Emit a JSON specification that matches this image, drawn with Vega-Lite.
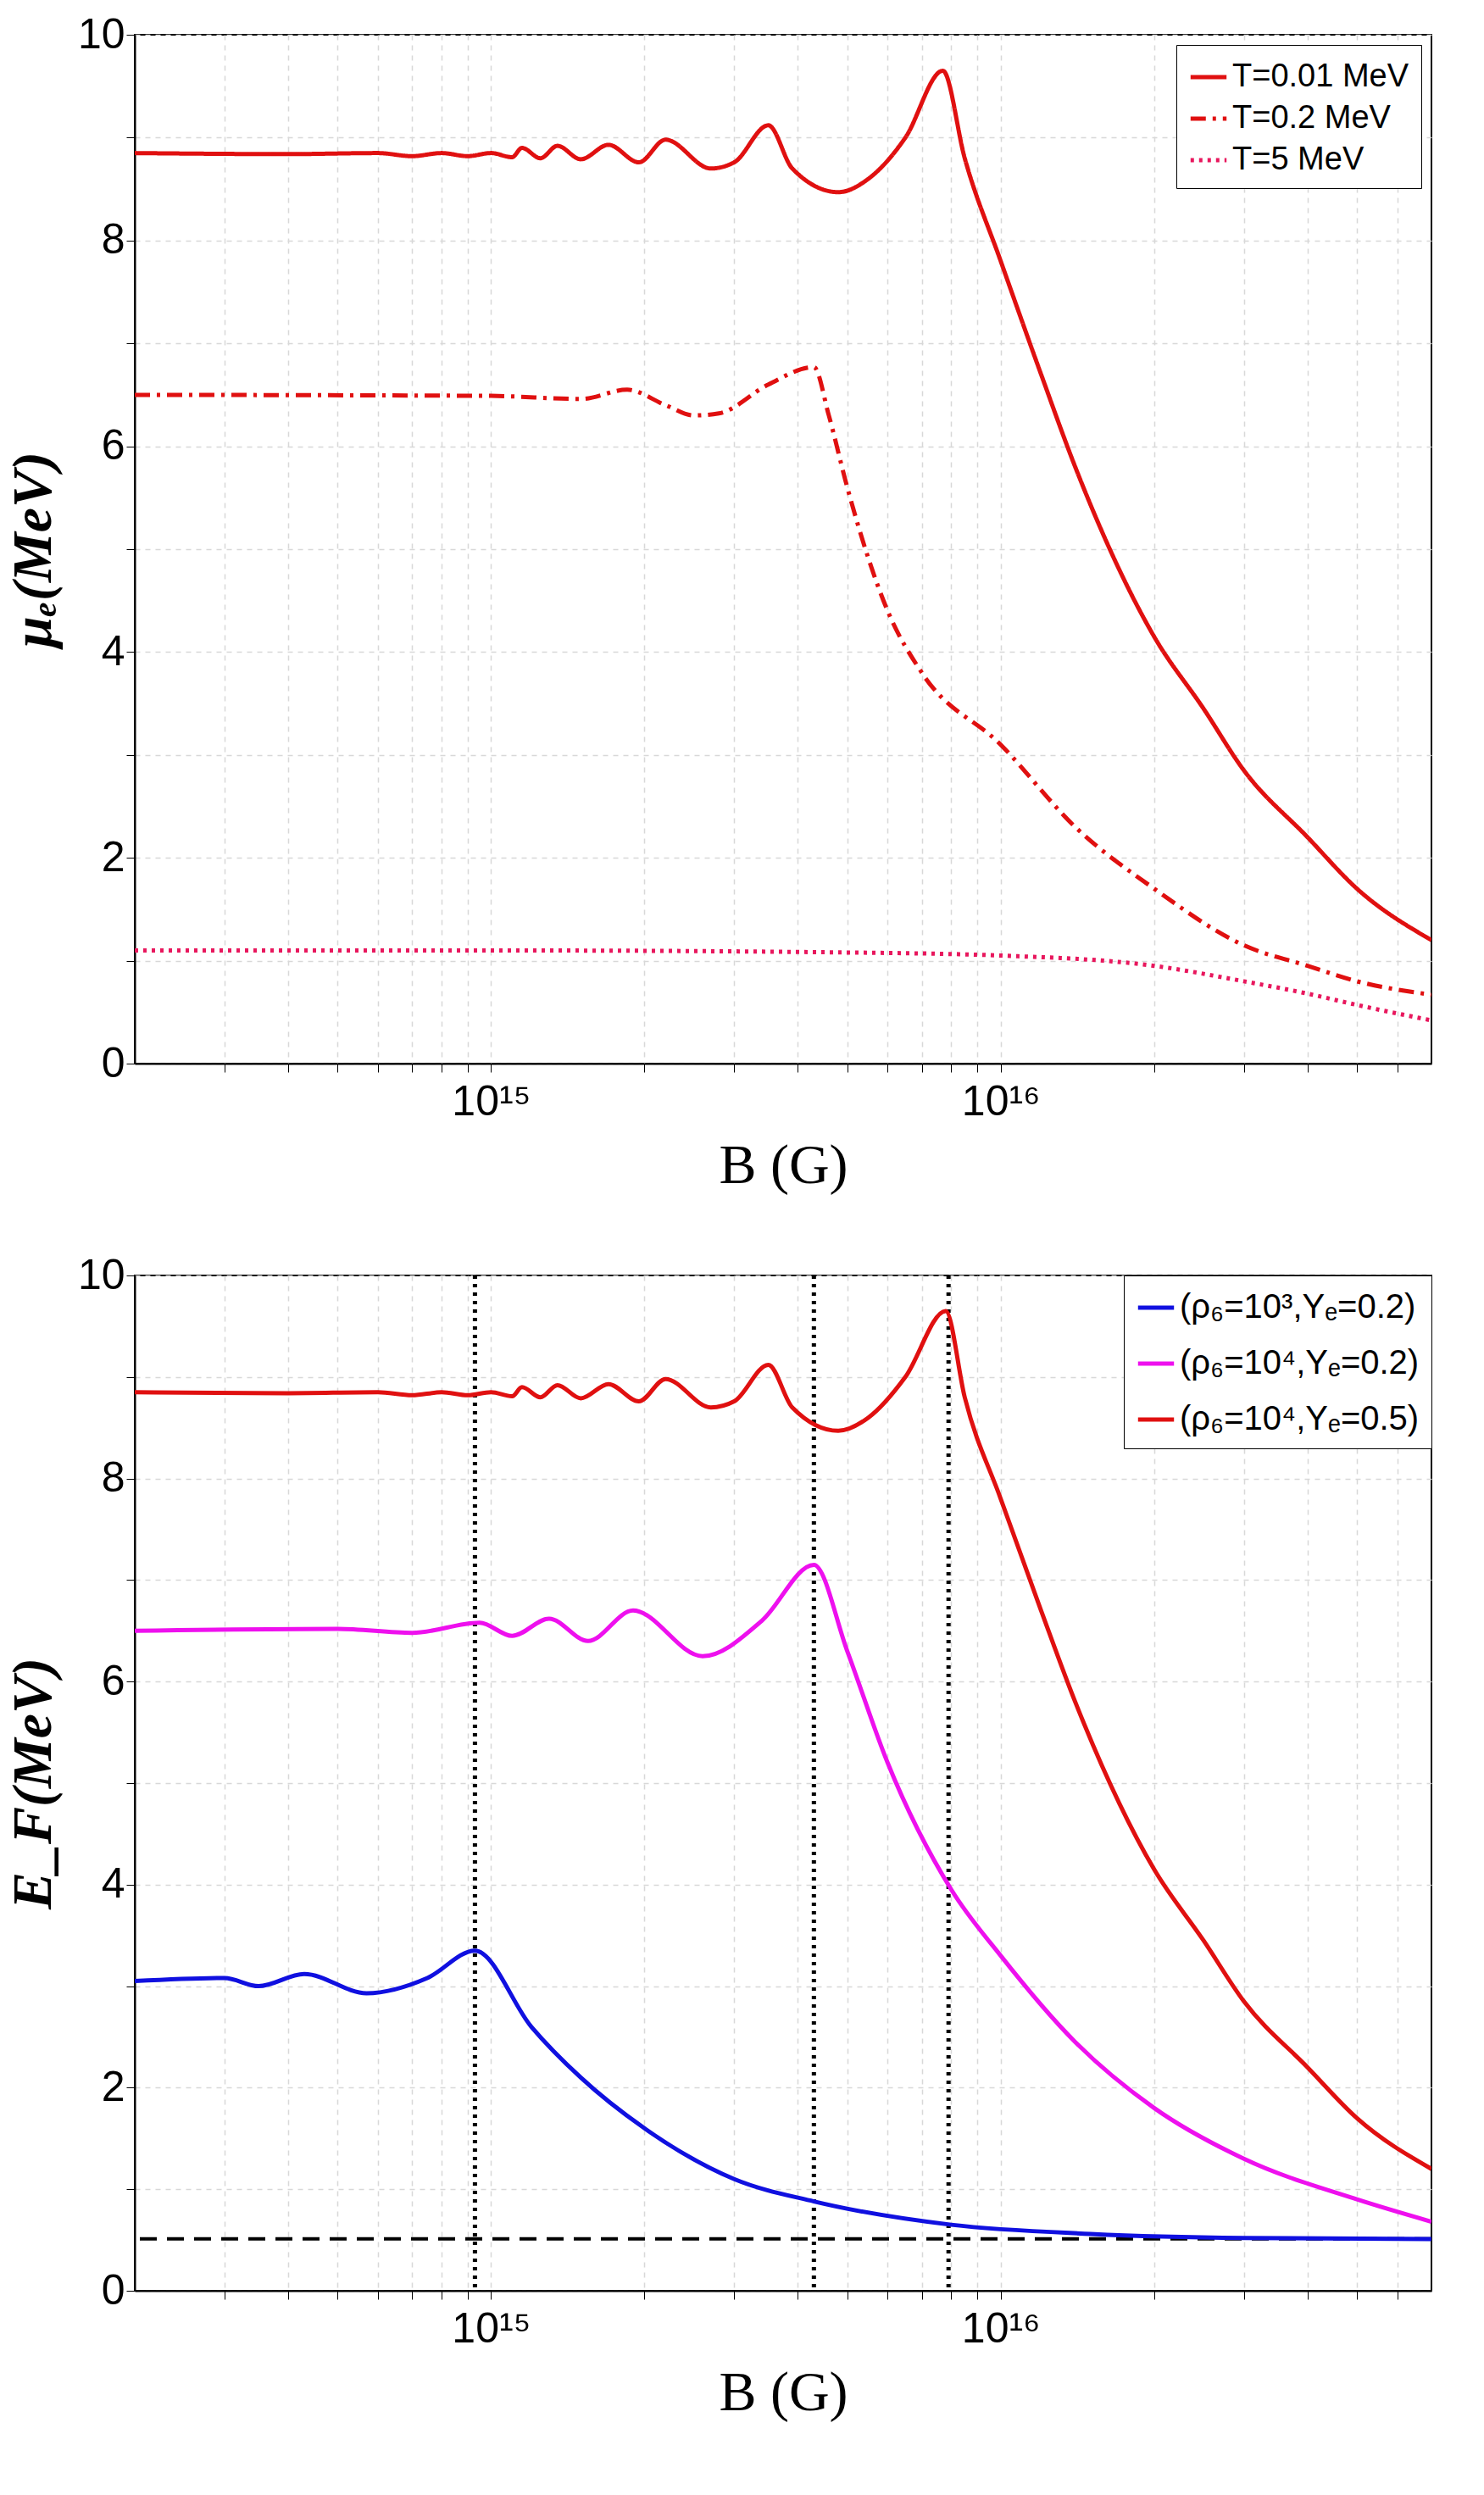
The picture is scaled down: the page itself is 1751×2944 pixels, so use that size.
{
  "$schema": "https://vega.github.io/schema/vega-lite/v6.json",
  "background": "white",
  "padding": {"left": 5, "top": 15, "right": 5, "bottom": 5},
  "datasets": {
    "top": [
      {"s": "T=0.01 MeV", "B": 2.0e14, "v": 8.85}, {"s": "T=0.01 MeV", "B": 4e14, "v": 8.84}, {"s": "T=0.01 MeV", "B": 6e14, "v": 8.85},
      {"s": "T=0.01 MeV", "B": 7e14, "v": 8.82}, {"s": "T=0.01 MeV", "B": 8e14, "v": 8.85}, {"s": "T=0.01 MeV", "B": 9e14, "v": 8.82},
      {"s": "T=0.01 MeV", "B": 1.0e15, "v": 8.85}, {"s": "T=0.01 MeV", "B": 1.1e15, "v": 8.81}, {"s": "T=0.01 MeV", "B": 1.15e15, "v": 8.9},
      {"s": "T=0.01 MeV", "B": 1.25e15, "v": 8.8}, {"s": "T=0.01 MeV", "B": 1.35e15, "v": 8.92}, {"s": "T=0.01 MeV", "B": 1.5e15, "v": 8.79},
      {"s": "T=0.01 MeV", "B": 1.7e15, "v": 8.93}, {"s": "T=0.01 MeV", "B": 1.95e15, "v": 8.76}, {"s": "T=0.01 MeV", "B": 2.2e15, "v": 8.98},
      {"s": "T=0.01 MeV", "B": 2.7e15, "v": 8.7}, {"s": "T=0.01 MeV", "B": 3.0e15, "v": 8.76}, {"s": "T=0.01 MeV", "B": 3.5e15, "v": 9.12},
      {"s": "T=0.01 MeV", "B": 3.9e15, "v": 8.7}, {"s": "T=0.01 MeV", "B": 4.8e15, "v": 8.47}, {"s": "T=0.01 MeV", "B": 5.5e15, "v": 8.6},
      {"s": "T=0.01 MeV", "B": 6.5e15, "v": 9.0}, {"s": "T=0.01 MeV", "B": 7.7e15, "v": 9.65}, {"s": "T=0.01 MeV", "B": 8.5e15, "v": 8.8},
      {"s": "T=0.01 MeV", "B": 1e16, "v": 7.8}, {"s": "T=0.01 MeV", "B": 1.2e16, "v": 6.7}, {"s": "T=0.01 MeV", "B": 1.4e16, "v": 5.8},
      {"s": "T=0.01 MeV", "B": 2e16, "v": 4.15}, {"s": "T=0.01 MeV", "B": 2.5e16, "v": 3.45}, {"s": "T=0.01 MeV", "B": 3e16, "v": 2.85},
      {"s": "T=0.01 MeV", "B": 4e16, "v": 2.2}, {"s": "T=0.01 MeV", "B": 5e16, "v": 1.7}, {"s": "T=0.01 MeV", "B": 7e16, "v": 1.2},
      {"s": "T=0.2 MeV", "B": 2e14, "v": 6.5}, {"s": "T=0.2 MeV", "B": 1e15, "v": 6.49}, {"s": "T=0.2 MeV", "B": 1.5e15, "v": 6.46},
      {"s": "T=0.2 MeV", "B": 1.85e15, "v": 6.55}, {"s": "T=0.2 MeV", "B": 2.2e15, "v": 6.4}, {"s": "T=0.2 MeV", "B": 2.5e15, "v": 6.3},
      {"s": "T=0.2 MeV", "B": 2.8e15, "v": 6.32}, {"s": "T=0.2 MeV", "B": 3.5e15, "v": 6.6}, {"s": "T=0.2 MeV", "B": 4.3e15, "v": 6.77},
      {"s": "T=0.2 MeV", "B": 4.6e15, "v": 6.3}, {"s": "T=0.2 MeV", "B": 5e15, "v": 5.6}, {"s": "T=0.2 MeV", "B": 6e15, "v": 4.4},
      {"s": "T=0.2 MeV", "B": 7e15, "v": 3.8}, {"s": "T=0.2 MeV", "B": 1e16, "v": 3.1}, {"s": "T=0.2 MeV", "B": 1.4e16, "v": 2.3},
      {"s": "T=0.2 MeV", "B": 2e16, "v": 1.7}, {"s": "T=0.2 MeV", "B": 3e16, "v": 1.15}, {"s": "T=0.2 MeV", "B": 4e16, "v": 0.95},
      {"s": "T=0.2 MeV", "B": 5e16, "v": 0.8}, {"s": "T=0.2 MeV", "B": 7e16, "v": 0.67},
      {"s": "T=5 MeV", "B": 2e14, "v": 1.1}, {"s": "T=5 MeV", "B": 1e15, "v": 1.1}, {"s": "T=5 MeV", "B": 5e15, "v": 1.08},
      {"s": "T=5 MeV", "B": 1e16, "v": 1.05}, {"s": "T=5 MeV", "B": 2e16, "v": 0.95}, {"s": "T=5 MeV", "B": 3e16, "v": 0.8},
      {"s": "T=5 MeV", "B": 4e16, "v": 0.68}, {"s": "T=5 MeV", "B": 5e16, "v": 0.57}, {"s": "T=5 MeV", "B": 7e16, "v": 0.42}
    ],
    "bottom": [
      {"s": "(ρ₆=10³,Yₑ=0.2)", "B": 2e14, "v": 3.05}, {"s": "(ρ₆=10³,Yₑ=0.2)", "B": 3e14, "v": 3.08}, {"s": "(ρ₆=10³,Yₑ=0.2)", "B": 3.5e14, "v": 3.0},
      {"s": "(ρ₆=10³,Yₑ=0.2)", "B": 4.3e14, "v": 3.12}, {"s": "(ρ₆=10³,Yₑ=0.2)", "B": 5.7e14, "v": 2.93}, {"s": "(ρ₆=10³,Yₑ=0.2)", "B": 7.5e14, "v": 3.08},
      {"s": "(ρ₆=10³,Yₑ=0.2)", "B": 9.3e14, "v": 3.35}, {"s": "(ρ₆=10³,Yₑ=0.2)", "B": 1.2e15, "v": 2.6}, {"s": "(ρ₆=10³,Yₑ=0.2)", "B": 1.5e15, "v": 2.1},
      {"s": "(ρ₆=10³,Yₑ=0.2)", "B": 2e15, "v": 1.6}, {"s": "(ρ₆=10³,Yₑ=0.2)", "B": 3e15, "v": 1.1}, {"s": "(ρ₆=10³,Yₑ=0.2)", "B": 4.3e15, "v": 0.88},
      {"s": "(ρ₆=10³,Yₑ=0.2)", "B": 8e15, "v": 0.65}, {"s": "(ρ₆=10³,Yₑ=0.2)", "B": 1.5e16, "v": 0.56}, {"s": "(ρ₆=10³,Yₑ=0.2)", "B": 3e16, "v": 0.52},
      {"s": "(ρ₆=10³,Yₑ=0.2)", "B": 7e16, "v": 0.51},
      {"s": "(ρ₆=10⁴,Yₑ=0.2)", "B": 2e14, "v": 6.5}, {"s": "(ρ₆=10⁴,Yₑ=0.2)", "B": 5e14, "v": 6.52}, {"s": "(ρ₆=10⁴,Yₑ=0.2)", "B": 7e14, "v": 6.48},
      {"s": "(ρ₆=10⁴,Yₑ=0.2)", "B": 9.5e14, "v": 6.58}, {"s": "(ρ₆=10⁴,Yₑ=0.2)", "B": 1.1e15, "v": 6.45}, {"s": "(ρ₆=10⁴,Yₑ=0.2)", "B": 1.3e15, "v": 6.62},
      {"s": "(ρ₆=10⁴,Yₑ=0.2)", "B": 1.55e15, "v": 6.4}, {"s": "(ρ₆=10⁴,Yₑ=0.2)", "B": 1.9e15, "v": 6.7}, {"s": "(ρ₆=10⁴,Yₑ=0.2)", "B": 2.6e15, "v": 6.25},
      {"s": "(ρ₆=10⁴,Yₑ=0.2)", "B": 3.4e15, "v": 6.6}, {"s": "(ρ₆=10⁴,Yₑ=0.2)", "B": 4.3e15, "v": 7.15}, {"s": "(ρ₆=10⁴,Yₑ=0.2)", "B": 5e15, "v": 6.3},
      {"s": "(ρ₆=10⁴,Yₑ=0.2)", "B": 6e15, "v": 5.2}, {"s": "(ρ₆=10⁴,Yₑ=0.2)", "B": 8e15, "v": 3.95}, {"s": "(ρ₆=10⁴,Yₑ=0.2)", "B": 1e16, "v": 3.3},
      {"s": "(ρ₆=10⁴,Yₑ=0.2)", "B": 1.4e16, "v": 2.45}, {"s": "(ρ₆=10⁴,Yₑ=0.2)", "B": 2e16, "v": 1.8}, {"s": "(ρ₆=10⁴,Yₑ=0.2)", "B": 3e16, "v": 1.3},
      {"s": "(ρ₆=10⁴,Yₑ=0.2)", "B": 5e16, "v": 0.9}, {"s": "(ρ₆=10⁴,Yₑ=0.2)", "B": 7e16, "v": 0.68},
      {"s": "(ρ₆=10⁴,Yₑ=0.5)", "B": 2.0e14, "v": 8.85}, {"s": "(ρ₆=10⁴,Yₑ=0.5)", "B": 4e14, "v": 8.84}, {"s": "(ρ₆=10⁴,Yₑ=0.5)", "B": 6e14, "v": 8.85},
      {"s": "(ρ₆=10⁴,Yₑ=0.5)", "B": 7e14, "v": 8.82}, {"s": "(ρ₆=10⁴,Yₑ=0.5)", "B": 8e14, "v": 8.85}, {"s": "(ρ₆=10⁴,Yₑ=0.5)", "B": 9e14, "v": 8.82},
      {"s": "(ρ₆=10⁴,Yₑ=0.5)", "B": 1.0e15, "v": 8.85}, {"s": "(ρ₆=10⁴,Yₑ=0.5)", "B": 1.1e15, "v": 8.81}, {"s": "(ρ₆=10⁴,Yₑ=0.5)", "B": 1.15e15, "v": 8.9},
      {"s": "(ρ₆=10⁴,Yₑ=0.5)", "B": 1.25e15, "v": 8.8}, {"s": "(ρ₆=10⁴,Yₑ=0.5)", "B": 1.35e15, "v": 8.92}, {"s": "(ρ₆=10⁴,Yₑ=0.5)", "B": 1.5e15, "v": 8.79},
      {"s": "(ρ₆=10⁴,Yₑ=0.5)", "B": 1.7e15, "v": 8.93}, {"s": "(ρ₆=10⁴,Yₑ=0.5)", "B": 1.95e15, "v": 8.76}, {"s": "(ρ₆=10⁴,Yₑ=0.5)", "B": 2.2e15, "v": 8.98},
      {"s": "(ρ₆=10⁴,Yₑ=0.5)", "B": 2.7e15, "v": 8.7}, {"s": "(ρ₆=10⁴,Yₑ=0.5)", "B": 3.0e15, "v": 8.76}, {"s": "(ρ₆=10⁴,Yₑ=0.5)", "B": 3.5e15, "v": 9.12},
      {"s": "(ρ₆=10⁴,Yₑ=0.5)", "B": 3.9e15, "v": 8.7}, {"s": "(ρ₆=10⁴,Yₑ=0.5)", "B": 4.8e15, "v": 8.47}, {"s": "(ρ₆=10⁴,Yₑ=0.5)", "B": 5.5e15, "v": 8.6},
      {"s": "(ρ₆=10⁴,Yₑ=0.5)", "B": 6.5e15, "v": 9.0}, {"s": "(ρ₆=10⁴,Yₑ=0.5)", "B": 7.8e15, "v": 9.65}, {"s": "(ρ₆=10⁴,Yₑ=0.5)", "B": 8.5e15, "v": 8.8},
      {"s": "(ρ₆=10⁴,Yₑ=0.5)", "B": 1e16, "v": 7.8}, {"s": "(ρ₆=10⁴,Yₑ=0.5)", "B": 1.2e16, "v": 6.7}, {"s": "(ρ₆=10⁴,Yₑ=0.5)", "B": 1.4e16, "v": 5.8},
      {"s": "(ρ₆=10⁴,Yₑ=0.5)", "B": 2e16, "v": 4.15}, {"s": "(ρ₆=10⁴,Yₑ=0.5)", "B": 2.5e16, "v": 3.45}, {"s": "(ρ₆=10⁴,Yₑ=0.5)", "B": 3e16, "v": 2.85},
      {"s": "(ρ₆=10⁴,Yₑ=0.5)", "B": 4e16, "v": 2.2}, {"s": "(ρ₆=10⁴,Yₑ=0.5)", "B": 5e16, "v": 1.7}, {"s": "(ρ₆=10⁴,Yₑ=0.5)", "B": 7e16, "v": 1.2}
    ],
    "vlines": [{"B": 9.3e14}, {"B": 4.3e15}, {"B": 7.9e15}],
    "hline": [{"v": 0.511}]
  },
  "resolve": {
    "scale": {"color": "independent", "strokeDash": "independent", "y": "independent", "x": "independent"},
    "legend": {"color": "independent", "strokeDash": "independent"}
  },
  "vconcat": [
    {
      "width": 1530,
      "height": 1214,
      "data": {"name": "top"},
      "mark": {"type": "line", "strokeWidth": 5, "clip": true, "interpolate": "monotone"},
      "encoding": {
        "x": {"field": "B", "type": "quantitative",
          "scale": {"type": "log", "domain": [2e14, 7e16], "nice": false},
          "axis": {"title": "B (G)", "values": [3e14,4e14,5e14,6e14,7e14,8e14,9e14,1e15,2e15,3e15,4e15,5e15,6e15,7e15,8e15,9e15,1e16,2e16,3e16,4e16,5e16,6e16],
            "labelExpr": "datum.value == 1e15 ? '10¹⁵' : datum.value == 1e16 ? '10¹⁶' : ''"}},
        "y": {"field": "v", "type": "quantitative", "scale": {"domain": [0, 10]},
          "axis": {"title": "μₑ(MeV)", "values": [0, 1, 2, 3, 4, 5, 6, 7, 8, 9, 10], "labelExpr": "datum.value % 2 == 0 ? datum.value : ''"}},
        "color": {"field": "s", "type": "nominal",
          "scale": {"domain": ["T=0.01 MeV", "T=0.2 MeV", "T=5 MeV"], "range": ["#e01010", "#e01010", "#e8175d"]},
          "legend": {"title": null, "orient": "top-right", "symbolType": "stroke", "symbolStrokeWidth": 5, "symbolSize": 1800, "labelLimit": 400,
            "labelFontSize": 38, "labelFont": "Liberation Sans", "strokeColor": "black", "fillColor": "white", "padding": 14, "rowPadding": 6, "offset": 12}},
        "strokeDash": {"field": "s", "type": "nominal",
          "scale": {"domain": ["T=0.01 MeV", "T=0.2 MeV", "T=5 MeV"], "range": [[1, 0], [18, 8, 4, 8], [4, 6]]}}
      }
    },
    {
      "width": 1530,
      "height": 1198,
      "layer": [
        {
          "data": {"name": "vlines"},
          "mark": {"type": "rule", "color": "black", "strokeWidth": 5, "strokeDash": [4, 6]},
          "encoding": {"x": {"field": "B", "type": "quantitative"}}
        },
        {
          "data": {"name": "hline"},
          "mark": {"type": "rule", "color": "black", "strokeWidth": 4, "strokeDash": [20, 12]},
          "encoding": {"y": {"field": "v", "type": "quantitative"}}
        },
        {
          "data": {"name": "bottom"},
          "mark": {"type": "line", "strokeWidth": 5, "clip": true, "interpolate": "monotone"},
          "encoding": {
            "x": {"field": "B", "type": "quantitative",
              "scale": {"type": "log", "domain": [2e14, 7e16], "nice": false},
              "axis": {"title": "B (G)", "values": [3e14,4e14,5e14,6e14,7e14,8e14,9e14,1e15,2e15,3e15,4e15,5e15,6e15,7e15,8e15,9e15,1e16,2e16,3e16,4e16,5e16,6e16],
                "labelExpr": "datum.value == 1e15 ? '10¹⁵' : datum.value == 1e16 ? '10¹⁶' : ''"}},
            "y": {"field": "v", "type": "quantitative", "scale": {"domain": [0, 10]},
              "axis": {"title": "E_F(MeV)", "values": [0, 1, 2, 3, 4, 5, 6, 7, 8, 9, 10], "labelExpr": "datum.value % 2 == 0 ? datum.value : ''"}},
            "color": {"field": "s", "type": "nominal",
              "scale": {"domain": ["(ρ₆=10³,Yₑ=0.2)", "(ρ₆=10⁴,Yₑ=0.2)", "(ρ₆=10⁴,Yₑ=0.5)"], "range": ["#1010e0", "#ee10ee", "#e01010"]},
              "legend": {"title": null, "orient": "top-right", "symbolType": "stroke", "symbolStrokeWidth": 5, "symbolSize": 1800, "labelLimit": 500,
                "labelFontSize": 40, "labelFont": "Liberation Sans", "strokeColor": "black", "fillColor": "white", "padding": 14, "rowPadding": 22, "offset": 0}}
          }
        }
      ]
    }
  ],
  "spacing": 70,
  "config": {
    "view": {"stroke": "black", "strokeWidth": 2},
    "axis": {
      "labelFontSize": 50, "labelFont": "Liberation Sans", "labelColor": "black",
      "titleFontSize": 66, "titleFont": "Liberation Serif", "titleColor": "black", "titleFontWeight": "bold", "titleFontStyle": "italic",
      "domainColor": "black", "domainWidth": 2, "tickColor": "black", "tickSize": 10,
      "gridColor": "#d8d8d8", "gridDash": [6, 6], "gridWidth": 1.5, "titlePadding": 18
    },
    "axisX": {"titleFontWeight": "normal", "titleFontStyle": "normal", "labelPadding": 10}
  }
}
